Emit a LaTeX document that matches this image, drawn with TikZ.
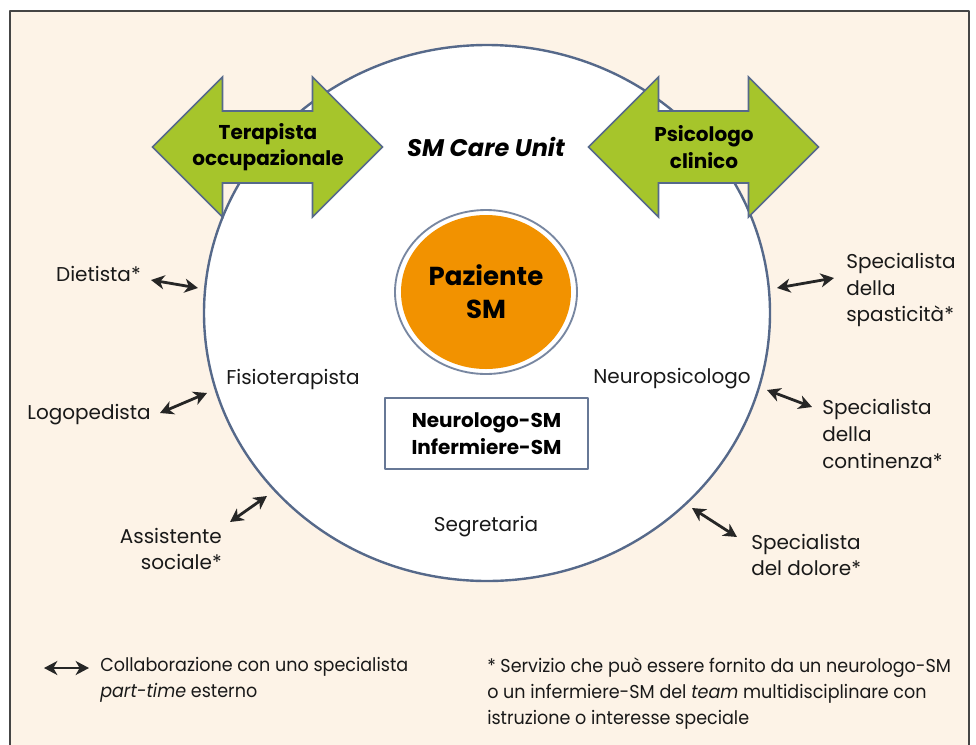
\documentclass[tikz,border=0pt]{standalone}
\usepackage{fontspec}
\setmainfont{Poppins}
\newfontfamily\legendfont{Poppins}[FakeStretch=0.94]
\usetikzlibrary{arrows.meta,shapes.geometric}
\definecolor{cream}{HTML}{FDF3E7}
\definecolor{framegray}{HTML}{454545}
\definecolor{slate}{HTML}{56698A}
\definecolor{leaf}{HTML}{A6C52B}
\definecolor{pumpkin}{HTML}{F29200}
\tikzset{
  label/.style={font=\fontsize{15}{20}\selectfont, inner sep=0pt, text=black!90},
  boldlabel/.style={font=\fontsize{15}{20}\selectfont\bfseries, inner sep=0pt, align=center},
  legend/.style={font=\legendfont\fontsize{14}{19.5}\selectfont, inner sep=0pt, text=black!90, anchor=north west, align=left},
  link/.style={{Stealth[length=10pt,width=10.5pt,inset=3pt]}-{Stealth[length=10pt,width=10.5pt,inset=3pt]}, line width=2.1pt, black!85},
  greenarrow/.style={fill=leaf, draw=slate, line width=1.2pt, line join=miter}
}
\begin{document}
\begin{tikzpicture}[x=0.75pt,y=-0.75pt,line join=round,line cap=round]
	\useasboundingbox (0,0) rectangle (976,744);
	% frame and background
	\draw[framegray, line width=1pt, fill=cream] (10,11) rectangle (969,760);
	% care unit
	\draw[slate, line width=1.8pt, fill=white] (487,313) ellipse [x radius=283, y radius=268];
	\foreach \cx in {267.5,703.5}
	\draw[greenarrow, shift={(\cx,147)}] (-115,0) -- (-45,-70) -- (-45,-36) -- (45,-36) -- (45,-70)
	  -- (115,0) -- (45,70) -- (45,36) -- (-45,36) -- (-45,70) -- cycle;
	\node[boldlabel] (terapista) at (268,147) {Terapista\\occupazionale};
	\node[boldlabel] (psicologo) at (704,147) {Psicologo\\clinico};
	\node[font=\fontsize{18}{22}\selectfont\bfseries\itshape, inner sep=0pt] (unit) at (486,147) {SM Care Unit};
	% patient
	\draw[slate!80, line width=1.4pt, fill=white] (486,292) ellipse [x radius=91, y radius=82];
	\node[ellipse, fill=pumpkin, minimum width=170*0.75pt, minimum height=154*0.75pt, inner sep=0pt] (paziente) at (486,292) {};
	\node[font=\fontsize{19.5}{25}\selectfont\bfseries, align=center, inner sep=0pt] at (paziente) {Paziente\\SM};
	\node[boldlabel, draw=slate!90, line width=1.5pt, fill=white, minimum width=203*0.75pt, minimum height=71*0.75pt] (team) at (486.5,433.5) {Neurologo-SM\\Infermiere-SM};
	\node[label] (fisio) at (293,379) {Fisioterapista};
	\node[label] (neuro) at (672,379) {Neuropsicologo};
	\node[label] (segr) at (486,527) {Segretaria};
	% external specialists
	\node[label, anchor=east] (dietista) at (141,274) {Dietista*};
	\node[label, anchor=east] (logo) at (151,415) {Logopedista};
	\node[label, anchor=east, align=right] (sociale) at (222,549) {Assistente\\sociale*};
	\node[label, anchor=west, align=left] (spast) at (846,290) {Specialista\\della\\spasticità*};
	\node[label, anchor=west, align=left] (cont) at (822,434) {Specialista\\della\\continenza*};
	\node[label, anchor=west, align=left] (dolore) at (751,555) {Specialista\\del dolore*};
	\coordinate (d1) at (151,280); \coordinate (d2) at (198,288);
	\coordinate (l1) at (160,413); \coordinate (l2) at (207,393);
	\coordinate (s1) at (230,522); \coordinate (s2) at (267,496);
	\coordinate (p1) at (777,288); \coordinate (p2) at (834,278);
	\coordinate (c1) at (767,390); \coordinate (c2) at (812,407);
	\coordinate (o1) at (692,508); \coordinate (o2) at (737,537);
	\foreach \a/\b in {d1/d2,l1/l2,s1/s2,p1/p2,c1/c2,o1/o2}
	\draw[link] (\a) -- (\b);
	% legend
	\coordinate (k1) at (44,668); \coordinate (k2) at (89,668);
	\draw[link] (k1) -- (k2);
	\node[legend] (legenda) at (100,657) {Collaborazione con uno specialista\\\textit{part-time} esterno};
	\node[legend] (nota) at (487,657) {* Servizio che può essere fornito da un neurologo-SM\\o un infermiere-SM del \textit{team} multidisciplinare con\\istruzione o interesse speciale};
\end{tikzpicture}
\end{document}
